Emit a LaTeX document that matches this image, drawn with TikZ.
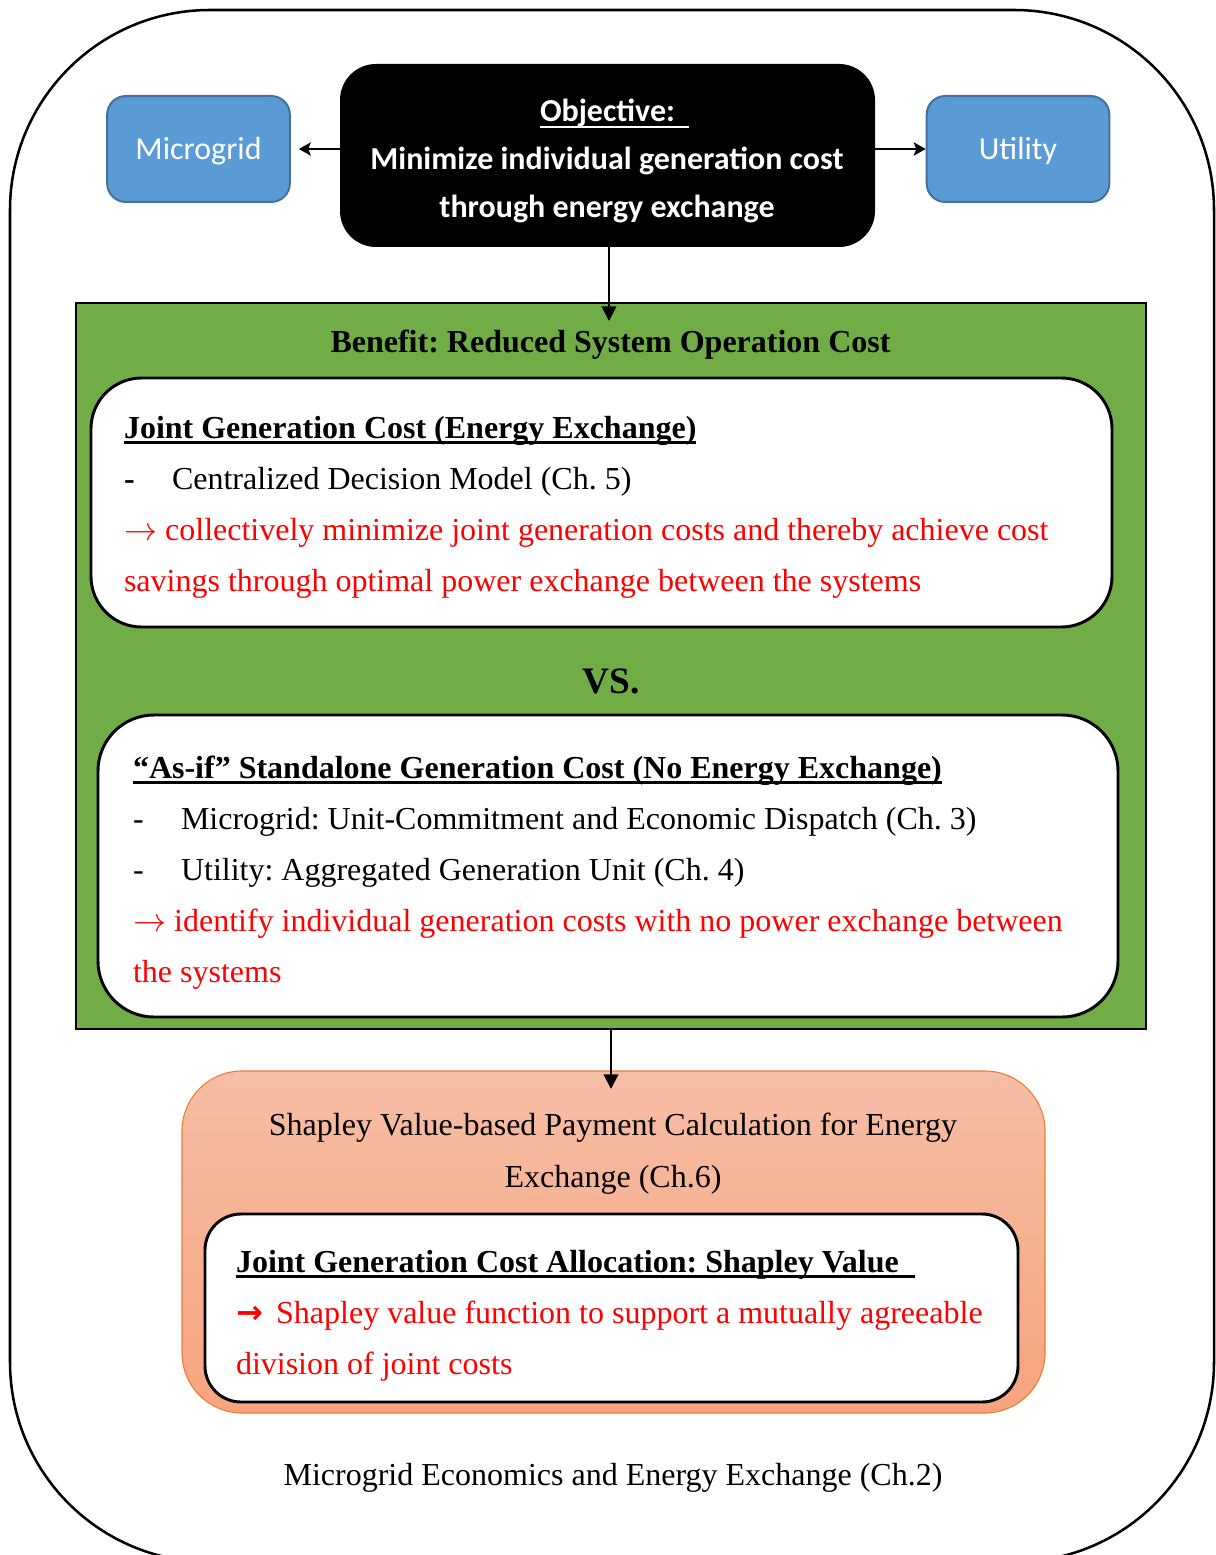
\documentclass[tikz,border=0pt]{standalone}
\usepackage{fontspec}
\setmainfont{Liberation Serif}
\newfontfamily\calibrifont{Carlito}
\newfontfamily\symfont{DejaVu Sans}
\usetikzlibrary{arrows.meta}
\frenchspacing
\newsavebox\myulbox
\newcommand\myul[3]{\sbox\myulbox{#1}\rlap{\rule[#2]{\wd\myulbox}{#3}}\usebox\myulbox}
\newcommand\thinarrow{\ensuremath{\rightarrow}}
\definecolor{bluefill}{HTML}{5B9BD5}
\definecolor{blueline}{HTML}{41719C}
\definecolor{greenfill}{HTML}{70AD47}
\definecolor{salmontop}{HTML}{F6BEA6}
\definecolor{salmonbot}{HTML}{F6A47E}
\definecolor{salmonline}{HTML}{ED7D31}
\definecolor{redtext}{HTML}{FF0000}
\begin{document}
\begin{tikzpicture}[x=0.75pt,y=-0.75pt,
  bluebox/.style={draw=blueline, line width=1.5pt, fill=bluefill, rounded corners=14pt,
    minimum width=137pt, minimum height=79.5pt, inner sep=0pt},
  bluetext/.style={inner sep=0pt, outer sep=0pt, anchor=base, text=white,
    font=\calibrifont\fontsize{24}{28}\selectfont},
  objbox/.style={fill=black, rounded corners=27pt, minimum width=401.25pt, minimum height=137.25pt, inner sep=0pt},
  whitebox/.style={draw=black, line width=2.2pt, fill=white, inner sep=0pt},
  tx/.style={inner sep=0pt, outer sep=0pt, anchor=base west, font=\fontsize{24}{28}\selectfont},
  txc/.style={tx, anchor=base},
  ctx/.style={inner sep=0pt, outer sep=0pt, anchor=base, text=white, font=\calibrifont\bfseries\fontsize{24}{28}\selectfont},
  rtx/.style={tx, text=redtext},
  arr/.style={line width=1.5pt, -{Triangle[length=11pt,width=11pt]}},
  harr/.style={line width=1.5pt, -{Stealth[length=9pt,width=10pt,inset=2pt]}}
]
\useasboundingbox (0,0) rectangle (1215,1555);
\fill[white] (0,0) rectangle (1215,1555);
% outer frame
\draw[line width=1.9pt, rounded corners=150pt] (10,10) rectangle (1214,1562);

% top row
\node[bluebox] (mg) at (198.5,149) {};
\node[bluetext] (mgt) at (198.5,160) {Microgrid};
\node[bluebox] (ut) at (1018,149) {};
\node[bluetext] (utt) at (1018,160) {Utility};
\node[objbox] (obj) at (607.5,155.5) {};
\node[ctx, anchor=base west] (objt1) at (540,122) {\myul{Objective:\ \ }{-4.5pt}{1.5pt}};
\node[ctx] (objt2) at (607,170) {Minimize individual generation cost};
\node[ctx] (objt3) at (607,218) {through energy exchange};

\draw[harr, shorten >=6pt] (obj.west |- mg.east) -- (mg.east);
\draw[harr] (obj.east |- ut.west) -- (ut.west);

% green benefit panel
\node[draw=black, line width=1.5pt, fill=greenfill, minimum width=802.5pt, minimum height=544.5pt, inner sep=0pt] (green) at (611,666) {};
\coordinate (t1) at (609,321);
\draw[arr] (obj.south -| t1) -- (t1);
\node[txc, font=\bfseries\fontsize{24}{28}\selectfont] (bentitle) at (610.5,352) {Benefit: Reduced System Operation Cost};

\node[whitebox, rounded corners=38pt, minimum width=765.75pt, minimum height=186.75pt] (box1) at (601.5,502.5) {};
\node[tx, font=\bfseries\fontsize{24}{28}\selectfont] (h1) at (124,438) {\myul{Joint Generation Cost (Energy Exchange)}{-4.5pt}{1.9pt}};
\node[tx] (d1) at (124,489) {\textbf{-}};
\node[tx] (l1) at (172,489) {Centralized Decision Model (Ch. 5)};
\node[rtx] (r1a) at (124,540) {\thinarrow{} collectively minimize joint generation costs and thereby achieve cost};
\node[rtx] (r1b) at (124,591) {savings through optimal power exchange between the systems};

\node[txc, font=\bfseries\fontsize{28}{32}\selectfont] (vs) at (611,693) {VS.};

\node[whitebox, rounded corners=42pt, minimum width=765pt, minimum height=226.5pt] (box2) at (608,866) {};
\node[tx, font=\bfseries\fontsize{24}{28}\selectfont] (h2) at (133,778) {\myul{“As-if” Standalone Generation Cost (No Energy Exchange)}{-4.5pt}{1.9pt}};
\node[tx] (d2a) at (133,829) {-};
\node[tx] (l2a) at (181,829) {Microgrid: Unit-Commitment and Economic Dispatch (Ch. 3)};
\node[tx] (d2b) at (133,880) {-};
\node[tx] (l2b) at (181,880) {Utility: Aggregated Generation Unit (Ch. 4)};
\node[rtx] (r2a) at (133,931) {\thinarrow{} identify individual generation costs with no power exchange between};
\node[rtx] (r2b) at (133,982) {the systems};

% Shapley panel
\node[draw=salmonline, line width=0.8pt, top color=salmontop, bottom color=salmonbot, rounded corners=45pt,
  minimum width=647.25pt, minimum height=256.5pt, inner sep=0pt] (shap) at (613.5,1242) {};
\coordinate (t2) at (611,1089);
\draw[arr] (green.south -| t2) -- (t2);
\node[txc] (s1) at (613,1135) {Shapley Value-based Payment Calculation for Energy};
\node[txc] (s2) at (613,1187) {Exchange (Ch.6)};

\node[whitebox, rounded corners=27pt, minimum width=609.75pt, minimum height=141pt] (box3) at (611.5,1308) {};
\node[tx, font=\bfseries\fontsize{24}{28}\selectfont] (h3) at (236,1272) {\myul{Joint Generation Cost Allocation: Shapley Value\ \ }{-4.5pt}{1.9pt}};
\node[rtx] (r3a) at (236,1323) {{\symfont\bfseries →}\, Shapley value function to support a mutually agreeable};
\node[rtx] (r3b) at (236,1374) {division of joint costs};

\node[txc] (foot) at (613,1485) {Microgrid Economics and Energy Exchange (Ch.2)};
\end{tikzpicture}
\end{document}
